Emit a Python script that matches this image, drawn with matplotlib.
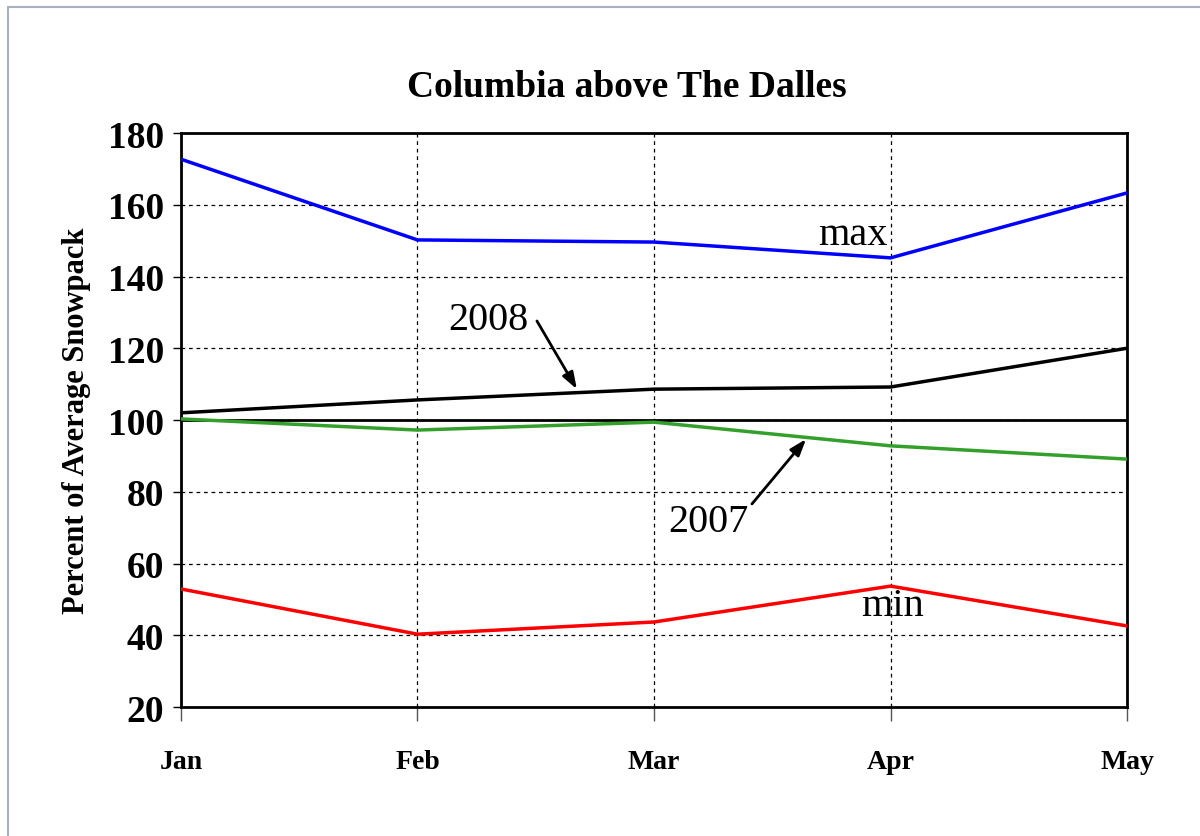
import numpy as np
import matplotlib.pyplot as plt
from matplotlib.patches import Rectangle

months = ["Jan", "Feb", "Mar", "Apr", "May"]
max_vals = [172.7, 150.2, 149.6, 145.2, 163.3]
y2008 = [102.0, 105.6, 108.6, 109.2, 120.0]
y2007 = [100.3, 97.2, 99.4, 92.8, 89.1]
min_vals = [52.9, 40.3, 43.7, 53.7, 42.6]
average = 100

plt.rcParams['font.family'] = ['Liberation Serif', 'DejaVu Serif']

fig = plt.figure(figsize=(12, 8.37), dpi=100)
fig.patches.append(Rectangle((0.007, -0.01), 1.0, 1.0, transform=fig.transFigure,
                             fill=False, edgecolor="#a9b1c3", linewidth=1.5))
ax = fig.add_axes([0.1508, 0.1541, 0.9392 - 0.1508, 0.8399 - 0.1541])

x = np.arange(len(months))
ax.plot(x, max_vals, color="#0000ff", lw=2.5, zorder=3)
ax.plot(x, y2008, color="black", lw=2.5, zorder=3)
ax.plot(x, y2007, color="#33a02c", lw=2.5, zorder=3)
ax.plot(x, min_vals, color="#ff0000", lw=2.5, zorder=3)
ax.axhline(average, color="black", lw=2, zorder=2)

ax.set_xlim(0, 4)
ax.set_ylim(20, 180)
ax.set_yticks(np.arange(20, 181, 20))
ax.set_xticks(x)
ax.set_xticklabels(months, fontsize=20, fontweight="bold")
ax.tick_params(axis="y", labelsize=27, length=6, width=1, direction="out", pad=6)
for t in ax.get_yticklabels():
    t.set_fontweight("bold")
ax.tick_params(axis="x", length=10, width=1, direction="out", pad=20, color="#555555")
ax.grid(True, color="black", linestyle=(0, (3, 3)), linewidth=0.9)
for s in ax.spines.values():
    s.set_linewidth(2)

ax.set_ylabel("Percent of Average Snowpack", fontsize=22, fontweight="bold", labelpad=12)
fig.text(0.522, 0.896, "Columbia above The Dalles", fontsize=27, fontweight="bold",
         ha="center", va="center")

ax.text(2.84, 151.8, "max", fontsize=29, ha="center", va="center")
ax.text(3.01, 48.4, "min", fontsize=29, ha="center", va="center")
ax.text(1.30, 127.9, "2008", fontsize=29, ha="center", va="center")
ax.text(2.228, 71.6, "2007", fontsize=29, ha="center", va="center")

arrow = dict(arrowstyle="-|>,head_length=1.0,head_width=0.35", color="black",
             lw=2, shrinkA=0, shrinkB=0)
ax.annotate("", xy=(1.674, 108.6), xytext=(1.505, 127.6), arrowprops=arrow)
ax.annotate("", xy=(2.643, 94.7), xytext=(2.414, 76.6), arrowprops=arrow)

fig.savefig("out.png", dpi=100)
